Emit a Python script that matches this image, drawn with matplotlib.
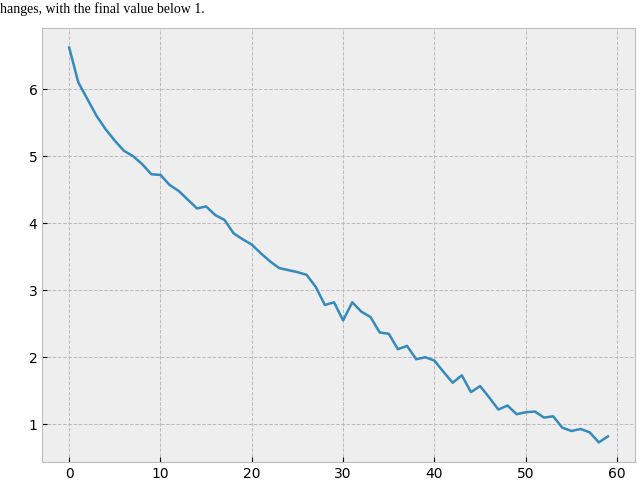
import matplotlib
matplotlib.use("Agg")
import matplotlib.pyplot as plt

plt.style.use("bmh")

epochs = list(range(60))
loss = [6.62, 6.10, 5.85, 5.60, 5.40, 5.23, 5.08, 5.00, 4.88, 4.73,
        4.72, 4.57, 4.48, 4.35, 4.22, 4.25, 4.12, 4.05, 3.85, 3.76,
        3.68, 3.55, 3.43, 3.33, 3.30, 3.27, 3.23, 3.05, 2.78, 2.82,
        2.55, 2.82, 2.68, 2.60, 2.37, 2.35, 2.12, 2.17, 1.97, 2.00,
        1.95, 1.78, 1.62, 1.73, 1.48, 1.57, 1.40, 1.22, 1.28, 1.15,
        1.18, 1.19, 1.10, 1.12, 0.95, 0.90, 0.93, 0.88, 0.73, 0.82]

fig = plt.figure(figsize=(6.4, 4.88), dpi=100, facecolor="white")
ax = fig.add_axes([0.066, 0.053, 0.926, 0.89])
ax.plot(epochs, loss, color="#348ABD", linewidth=1.8)
ax.grid(True, linestyle="--", color="#bbbbbb", linewidth=0.7)
ax.set_xticks(range(0, 61, 10))
ax.set_yticks(range(1, 7))

# cropped caption line from the source page
fig.text(0.0, 0.995, "hanges, with the final value below 1.", fontsize=10,
         family="Liberation Serif", va="top", ha="left")

fig.savefig("out.png", dpi=100)
